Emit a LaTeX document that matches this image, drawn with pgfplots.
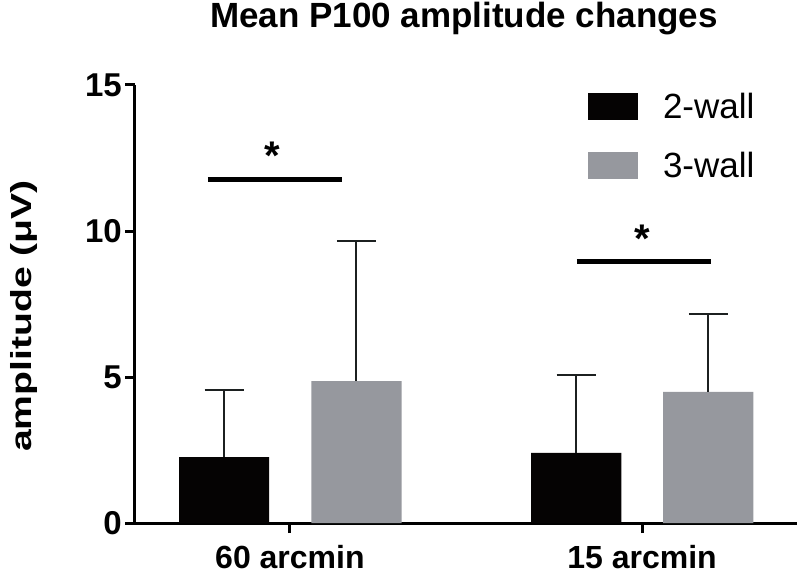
\documentclass[border=0pt]{standalone}
\usepackage{fontspec}
\setmainfont{Liberation Sans}
\usepackage{pgfplots}
\pgfplotsset{compat=1.18}
\definecolor{barblack}{RGB}{5,3,3}
\definecolor{bargray}{RGB}{150,152,158}
\definecolor{errcol}{RGB}{28,32,32}
\begin{document}
\begin{tikzpicture}[x=1pt,y=1pt]
\useasboundingbox (-135,-51) rectangle (665,523);
\begin{axis}[
  at={(0,0)}, anchor=south west,
  scale only axis, width=662pt, height=438pt,
  xmin=-0.44, xmax=1.44, ymin=0, ymax=15,
  axis x line*=bottom, axis y line*=left,
  axis line style={-, line width=3pt, black},
  xtick={0,1}, xticklabels={60 arcmin, 15 arcmin},
  ytick={0,5,10,15},
  tick align=outside, major tick length=10pt,
  tick style={line width=3pt, black},
  /pgf/number format/assume math mode=true,
  yticklabel style={font=\fontsize{33}{33}\selectfont\bfseries, inner sep=0pt, xshift=-3pt},
  xticklabel style={font=\fontsize{32}{32}\selectfont\bfseries, anchor=base, inner sep=0pt, yshift=-35pt},
  clip=false,
  legend style={at={(0.6843,0.9817)}, anchor=north west, draw=none, fill=none,
    font=\fontsize{35}{35}\selectfont, row sep=32pt, inner sep=0pt, outer sep=0pt,
    nodes={inner sep=0pt, outer sep=0pt},
    /tikz/every odd column/.append style={column sep=25pt}},
  legend cell align=left,
  legend image code/.code={\fill[#1] (0pt,-13.5pt) rectangle (50pt,13.5pt);},
]
\addplot[ybar, bar width=0.256, bar shift=0pt, fill=barblack, draw=none,
  error bars/.cd, y dir=plus, y explicit,
  error bar style={line width=2pt, errcol},
  error mark options={rotate=90, mark size=19.5pt, line width=2pt, errcol}]
  coordinates {(-0.187,2.26) +- (0,2.29) (0.813,2.40) +- (0,2.67)};
\addlegendentry{2-wall}
\addplot[ybar, bar width=0.256, bar shift=0pt, fill=bargray, draw=none,
  error bars/.cd, y dir=plus, y explicit,
  error bar style={line width=2pt, errcol},
  error mark options={rotate=90, mark size=19.5pt, line width=2pt, errcol}]
  coordinates {(0.189,4.86) +- (0,4.80) (1.188,4.49) +- (0,2.67)};
\addlegendentry{3-wall}
\addplot[forget plot, line width=5pt, black] coordinates {(-0.233,11.78) (0.148,11.78)};
\addplot[forget plot, line width=5pt, black] coordinates {(0.815,8.94) (1.196,8.94)};
\node[font=\fontsize{40}{40}\selectfont\bfseries, anchor=base, inner sep=0pt] at (axis cs:-0.051,12.09) {*};
\node[font=\fontsize{40}{40}\selectfont\bfseries, anchor=base, inner sep=0pt] at (axis cs:1.0,9.28) {*};
\end{axis}
\node[font=\fontsize{35}{35}\selectfont\bfseries, anchor=base] at (329,495) {Mean P100 amplitude changes};
\node[rotate=90, font=\fontsize{29}{29}\selectfont\bfseries, inner sep=0pt] at (-111,207) {\scalebox{1.35}[1]{amplitude (μV)}};
\end{tikzpicture}
\end{document}
